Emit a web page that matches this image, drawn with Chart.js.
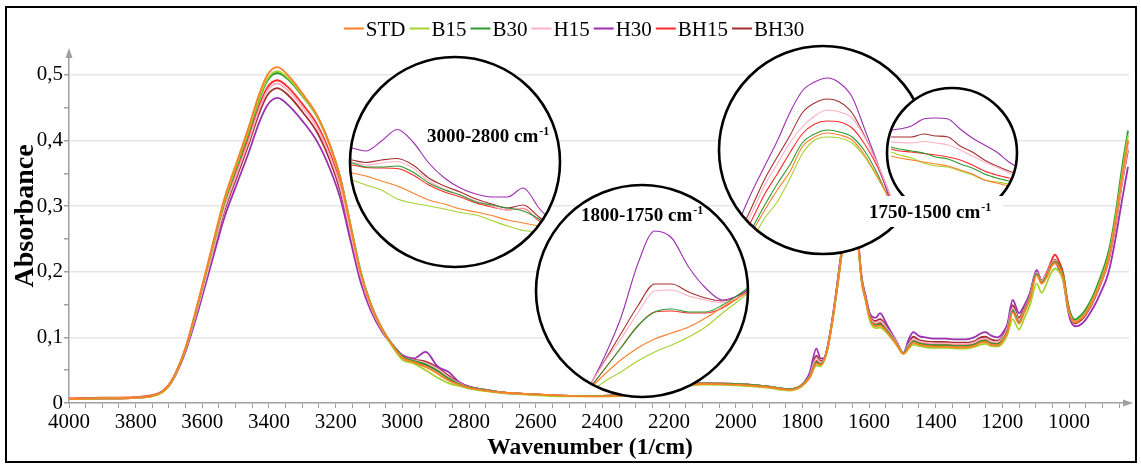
<!DOCTYPE html>
<html lang="en">
<head>
<meta charset="utf-8">
<script src="https://cdn.jsdelivr.net/npm/chart.js@4.4.1/dist/chart.umd.min.js"></script>
<title>FTIR spectra</title>
<style>
  html, body { margin: 0; padding: 0; background: #fff; }
</style>
</head>
<body>
<canvas id="myChart" width="1141" height="467"></canvas>
<script>
// samples and their line colours
const samples = ['STD', 'B15', 'B30', 'H15', 'H30', 'BH15', 'BH30'];
const colours = ['#ff7f2a', '#a5d22e', '#2e9a2e', '#ffb0c4', '#9b2fb0', '#ff2b2b', '#a33030'];

// main spectra (wavenumber in 1/cm, absorbance)
const wavenumber = [4000,3900,3800,3750,3720,3700,3680,3650,3610,3570,
  3535,3495,3460,3430,3405,3375,3340,3300,3255,3215,
  3185,3155,3125,3095,3060,3030,3000,2965,2930,2895,
  2860,2830,2800,2750,2700,2600,2500,2400,2300,2200,
  2100,2000,1900,1840,1805,1778,1758,1745,1735,1725,
  1710,1695,1680,1665,1650,1635,1622,1610,1597,1580,
  1567,1547,1517,1497,1480,1467,1450,1430,1400,1370,
  1340,1310,1285,1265,1250,1235,1215,1200,1185,1169,
  1150,1135,1117,1097,1082,1065,1055,1042,1030,1017,
  1005,997,982,970,955,937,920,900,887,877,
  860,840,823];

const absSTD = [0.006,0.007,0.008,0.011,0.017,0.027,0.045,0.085,0.160,0.240,
  0.310,0.370,0.422,0.470,0.500,0.512,0.498,0.472,0.438,0.390,
  0.340,0.268,0.198,0.150,0.112,0.088,0.069,0.062,0.055,0.045,
  0.034,0.028,0.023,0.019,0.016,0.013,0.011,0.010,0.013,0.022,
  0.029,0.028,0.024,0.020,0.025,0.039,0.060,0.058,0.065,0.081,
  0.124,0.177,0.234,0.282,0.297,0.255,0.186,0.157,0.128,0.117,
  0.118,0.109,0.089,0.075,0.085,0.092,0.089,0.087,0.086,0.086,
  0.085,0.085,0.087,0.092,0.093,0.089,0.088,0.094,0.108,0.138,
  0.121,0.137,0.159,0.195,0.182,0.194,0.206,0.213,0.207,0.190,
  0.152,0.135,0.123,0.126,0.133,0.148,0.166,0.191,0.210,0.230,
  0.278,0.346,0.400];
const absB15 = [0.006,0.007,0.008,0.010,0.016,0.026,0.044,0.084,0.158,0.237,
  0.306,0.366,0.417,0.464,0.494,0.506,0.494,0.469,0.436,0.389,
  0.340,0.269,0.199,0.150,0.111,0.086,0.066,0.060,0.050,0.039,
  0.030,0.026,0.022,0.018,0.015,0.012,0.010,0.010,0.012,0.021,
  0.028,0.027,0.023,0.019,0.024,0.038,0.057,0.056,0.064,0.080,
  0.123,0.176,0.233,0.280,0.295,0.254,0.185,0.155,0.125,0.114,
  0.115,0.107,0.088,0.075,0.083,0.089,0.087,0.085,0.084,0.084,
  0.083,0.083,0.085,0.089,0.090,0.087,0.086,0.091,0.104,0.128,
  0.112,0.128,0.150,0.182,0.168,0.185,0.197,0.205,0.200,0.186,
  0.150,0.134,0.123,0.127,0.134,0.150,0.168,0.194,0.213,0.233,
  0.282,0.352,0.408];
const absB30 = [0.006,0.007,0.008,0.011,0.017,0.027,0.045,0.084,0.157,0.236,
  0.304,0.363,0.414,0.461,0.491,0.503,0.492,0.468,0.436,0.390,
  0.342,0.271,0.201,0.152,0.113,0.089,0.071,0.064,0.059,0.049,
  0.037,0.029,0.024,0.020,0.016,0.013,0.011,0.011,0.014,0.023,
  0.030,0.029,0.025,0.021,0.026,0.040,0.062,0.059,0.066,0.082,
  0.125,0.178,0.235,0.283,0.298,0.256,0.187,0.158,0.129,0.119,
  0.120,0.111,0.090,0.076,0.087,0.094,0.091,0.089,0.088,0.088,
  0.087,0.087,0.089,0.094,0.095,0.091,0.090,0.096,0.110,0.141,
  0.123,0.139,0.161,0.197,0.184,0.196,0.208,0.215,0.210,0.194,
  0.156,0.139,0.127,0.131,0.139,0.154,0.173,0.200,0.220,0.240,
  0.290,0.362,0.415];
const absH15 = [0.006,0.007,0.008,0.011,0.017,0.027,0.045,0.082,0.152,0.228,
  0.295,0.352,0.401,0.447,0.476,0.487,0.475,0.451,0.419,0.373,
  0.327,0.259,0.193,0.147,0.111,0.089,0.071,0.065,0.061,0.052,
  0.039,0.030,0.024,0.020,0.016,0.013,0.011,0.011,0.014,0.023,
  0.030,0.029,0.025,0.021,0.026,0.041,0.068,0.062,0.066,0.082,
  0.126,0.179,0.237,0.290,0.306,0.258,0.188,0.159,0.131,0.122,
  0.125,0.114,0.092,0.076,0.090,0.097,0.094,0.092,0.091,0.091,
  0.090,0.090,0.092,0.097,0.098,0.094,0.093,0.099,0.114,0.145,
  0.126,0.141,0.163,0.199,0.186,0.198,0.210,0.217,0.209,0.192,
  0.154,0.136,0.123,0.126,0.133,0.147,0.165,0.190,0.208,0.228,
  0.275,0.340,0.390];
const absH30 = [0.006,0.007,0.008,0.011,0.017,0.026,0.043,0.079,0.145,0.218,
  0.281,0.336,0.383,0.427,0.454,0.465,0.453,0.430,0.398,0.354,
  0.310,0.246,0.184,0.141,0.108,0.089,0.073,0.068,0.078,0.056,
  0.047,0.032,0.025,0.020,0.016,0.013,0.011,0.011,0.014,0.023,
  0.030,0.029,0.025,0.021,0.026,0.046,0.083,0.068,0.068,0.084,
  0.128,0.183,0.242,0.300,0.318,0.262,0.192,0.163,0.136,0.130,
  0.137,0.120,0.093,0.076,0.098,0.108,0.102,0.100,0.098,0.098,
  0.097,0.097,0.100,0.106,0.108,0.103,0.100,0.106,0.120,0.157,
  0.137,0.148,0.168,0.203,0.186,0.198,0.208,0.214,0.204,0.186,
  0.147,0.128,0.117,0.118,0.124,0.137,0.152,0.174,0.190,0.208,
  0.252,0.312,0.360];
const absBH15 = [0.007,0.008,0.009,0.012,0.018,0.028,0.046,0.083,0.154,0.231,
  0.298,0.356,0.406,0.452,0.481,0.492,0.480,0.456,0.424,0.378,
  0.331,0.262,0.195,0.148,0.111,0.088,0.070,0.064,0.058,0.049,
  0.037,0.029,0.024,0.020,0.016,0.013,0.011,0.011,0.014,0.023,
  0.030,0.029,0.025,0.021,0.026,0.040,0.064,0.060,0.066,0.082,
  0.125,0.178,0.236,0.288,0.303,0.257,0.187,0.158,0.130,0.120,
  0.122,0.112,0.091,0.076,0.089,0.096,0.093,0.091,0.090,0.090,
  0.089,0.089,0.091,0.096,0.097,0.093,0.092,0.098,0.112,0.143,
  0.125,0.141,0.164,0.200,0.187,0.201,0.214,0.226,0.216,0.197,
  0.157,0.138,0.124,0.127,0.134,0.149,0.167,0.193,0.212,0.232,
  0.280,0.348,0.400];
const absBH30 = [0.006,0.007,0.008,0.011,0.017,0.027,0.044,0.081,0.150,0.225,
  0.291,0.347,0.396,0.441,0.469,0.480,0.468,0.444,0.412,0.367,
  0.321,0.255,0.190,0.145,0.110,0.089,0.072,0.066,0.063,0.054,
  0.041,0.031,0.025,0.020,0.016,0.013,0.011,0.011,0.014,0.023,
  0.030,0.029,0.025,0.021,0.026,0.043,0.072,0.064,0.067,0.083,
  0.127,0.181,0.240,0.295,0.310,0.260,0.190,0.161,0.133,0.125,
  0.128,0.116,0.093,0.076,0.092,0.101,0.096,0.094,0.093,0.093,
  0.092,0.092,0.094,0.100,0.101,0.097,0.095,0.101,0.116,0.149,
  0.130,0.144,0.165,0.200,0.186,0.198,0.210,0.218,0.210,0.193,
  0.153,0.135,0.121,0.124,0.131,0.145,0.163,0.188,0.206,0.226,
  0.272,0.338,0.385];

// zoomed insets: 3000-2800 cm-1
const ins1X = [3005,2998,2985,2970,2955,2940,2925,2910,2895,2880,2865,2850,2835,2820,2805];
const i1STD = [0.0612,0.0608,0.0602,0.0592,0.0582,0.0568,0.0554,0.0546,0.0536,0.053,0.0523,0.0514,0.0508,0.0502,0.0494];
const i1B15 = [0.0598,0.0594,0.0584,0.0574,0.0556,0.0548,0.0542,0.0536,0.0529,0.0524,0.0513,0.0502,0.0493,0.049,0.0486];
const i1B30 = [0.063,0.0628,0.062,0.062,0.0622,0.061,0.0588,0.0574,0.0564,0.055,0.0544,0.0538,0.0532,0.0516,0.0496];
const i1H15 = [0.0632,0.063,0.0624,0.0628,0.0631,0.0618,0.0592,0.0576,0.0564,0.0552,0.0542,0.0534,0.0538,0.0514,0.0494];
const i1H30 = [0.0662,0.0658,0.0652,0.0672,0.0695,0.067,0.0628,0.0598,0.0578,0.0566,0.056,0.056,0.0578,0.0538,0.0504];
const i1BH15 = [0.0626,0.0624,0.0619,0.0618,0.0617,0.0604,0.0584,0.057,0.056,0.0548,0.054,0.0534,0.0537,0.0512,0.0492];
const i1BH30 = [0.0636,0.0634,0.0629,0.0634,0.0637,0.0624,0.0598,0.0582,0.057,0.0556,0.0546,0.0538,0.0544,0.052,0.0498];

// 1800-1750 cm-1
const ins2X = [1788,1784,1780,1776,1772,1768,1764,1760,1756,1752,1750];
const i2STD = [0.0386,0.042,0.045,0.0474,0.0492,0.0504,0.0516,0.0534,0.0556,0.0576,0.0586];
const i2B15 = [0.038,0.0406,0.0426,0.0448,0.0466,0.048,0.0496,0.0516,0.0544,0.057,0.0584];
const i2B30 = [0.0386,0.043,0.0474,0.0518,0.0546,0.0552,0.0546,0.0546,0.056,0.0582,0.0594];
const i2H15 = [0.039,0.0444,0.0492,0.0544,0.0588,0.059,0.0578,0.057,0.0564,0.0576,0.0586];
const i2H30 = [0.0386,0.0454,0.0534,0.0642,0.0708,0.0694,0.0636,0.0594,0.057,0.058,0.059];
const i2BH15 = [0.0386,0.043,0.0474,0.0518,0.0546,0.0548,0.0544,0.0544,0.0554,0.0576,0.0586];
const i2BH30 = [0.039,0.0446,0.0502,0.0558,0.0602,0.0602,0.0586,0.0574,0.0568,0.058,0.059];

// 1750-1500 cm-1
const ins3X = [1725,1710,1695,1680,1665,1650,1635,1620,1605,1590,1575,1560,1545,1530];
const i3STD = [0.2155,0.227,0.238,0.248,0.257,0.2695,0.2745,0.2765,0.2755,0.273,0.2655,0.255,0.243,0.227];
const i3B15 = [0.212,0.223,0.234,0.242,0.2535,0.266,0.273,0.2745,0.274,0.2715,0.2645,0.2545,0.243,0.228];
const i3B30 = [0.218,0.229,0.2405,0.251,0.2605,0.2715,0.276,0.278,0.277,0.2745,0.2675,0.2565,0.2425,0.227];
const i3H15 = [0.224,0.237,0.2505,0.261,0.2715,0.2795,0.285,0.288,0.287,0.284,0.2745,0.2615,0.246,0.229];
const i3H30 = [0.2335,0.2475,0.26,0.2725,0.2865,0.2975,0.302,0.304,0.3015,0.2945,0.2785,0.262,0.2435,0.223];
const i3BH15 = [0.221,0.2335,0.246,0.256,0.2665,0.276,0.281,0.2825,0.282,0.279,0.271,0.26,0.245,0.229];
const i3BH30 = [0.2265,0.24,0.2535,0.2645,0.275,0.2865,0.2915,0.2935,0.292,0.2865,0.275,0.2615,0.246,0.228];

// small unlabeled inset, 1480-1320 cm-1
const ins4X = [1475,1465,1450,1435,1420,1405,1390,1375,1360,1345,1330,1318];
const i4STD = [0.0964,0.096,0.0956,0.0952,0.0948,0.0944,0.0936,0.0928,0.0916,0.091,0.0904,0.09];
const i4B15 = [0.0972,0.0966,0.096,0.095,0.0944,0.0942,0.0934,0.0926,0.0916,0.0912,0.0908,0.0904];
const i4B30 = [0.0982,0.0978,0.0974,0.097,0.0962,0.0958,0.0948,0.094,0.0928,0.092,0.0914,0.091];
const i4H15 = [0.0992,0.0991,0.099,0.0993,0.099,0.0986,0.0976,0.0964,0.0952,0.0942,0.093,0.0922];
const i4H30 = [0.1016,0.1018,0.1024,0.1038,0.104,0.1038,0.1018,0.1,0.0986,0.0972,0.0952,0.094];
const i4BH15 = [0.0978,0.0974,0.0972,0.0969,0.0966,0.0962,0.0956,0.0946,0.0934,0.0926,0.092,0.0916];
const i4BH30 = [0.1002,0.1002,0.1002,0.1008,0.1004,0.1002,0.0984,0.0972,0.0956,0.0944,0.0934,0.0928];

const yTicks = [0,0.05,0.1,0.15,0.2,0.25,0.3,0.35,0.4,0.45,0.5];

// layout (pixels)
const area = {left: 69, right: 1129, top: 53, bottom: 403};
const circles = [
  {cx: 455, cy: 162, r: 105, xWin: [3000, 2800], yWin: [0.042, 0.084]},
  {cx: 642, cy: 291, r: 106, xWin: [1800, 1750], yWin: [0.0376, 0.08]},
  {cx: 823, cy: 150, r: 104, xWin: [1750, 1500], yWin: [0.216, 0.32]},
  {cx: 952, cy: 153, r: 65, xWin: [1480, 1320], yWin: [0.084, 0.11]}
];
const insetLabels = [
  {text: '3000-2800 cm', x: 427, y: 142},
  {text: '1800-1750 cm', x: 581, y: 221},
  {text: '1750-1500 cm', x: 869, y: 218, box: [860, 196, 143, 31]}
];
const serif = '"Liberation Serif", "Times New Roman", serif';

const mainSeries = [absSTD, absB15, absB30, absH15, absH30, absBH15, absBH30];
const insetData = [
  [ins1X, [i1STD, i1B15, i1B30, i1H15, i1H30, i1BH15, i1BH30]],
  [ins2X, [i2STD, i2B15, i2B30, i2H15, i2H30, i2BH15, i2BH30]],
  [ins3X, [i3STD, i3B15, i3B30, i3H15, i3H30, i3BH15, i3BH30]],
  [ins4X, [i4STD, i4B15, i4B30, i4H15, i4H30, i4BH15, i4BH30]]
];

const toPoints = (xs, ys) => xs.map((x, i) => ({x: x, y: ys[i]}));

let datasets = samples.map((s, k) => ({
  label: s,
  data: toPoints(wavenumber, mainSeries[k]),
  borderColor: colours[k],
  borderWidth: 1.8,
  pointRadius: 0,
  cubicInterpolationMode: 'monotone',
  order: 10
}));
insetData.forEach((ins, n) => {
  samples.forEach((s, k) => {
    datasets.push({
      label: s,
      inset: n,
      data: toPoints(ins[0], ins[1][k]),
      xAxisID: 'xi' + n,
      yAxisID: 'yi' + n,
      borderColor: colours[k],
      borderWidth: 1.1,
      pointRadius: 0,
      cubicInterpolationMode: 'monotone',
      clip: false,
      order: 4 - n
    });
  });
});

// hidden scales that put each inset window inside its circle
function insetScales(c, n) {
  const W = area.right - area.left, H = area.bottom - area.top;
  const L = c.cx - c.r, R = c.cx + c.r, T = c.cy - c.r, B = c.cy + c.r;
  const kx = (c.xWin[0] - c.xWin[1]) / (R - L);
  const xmax = c.xWin[0] + (L - area.left) * kx;
  const ky = (c.yWin[1] - c.yWin[0]) / (B - T);
  const ymin = c.yWin[0] - (area.bottom - B) * ky;
  let out = {};
  out['xi' + n] = {type: 'linear', display: false, reverse: true, bounds: 'data', min: xmax - W * kx, max: xmax};
  out['yi' + n] = {type: 'linear', display: false, bounds: 'data', min: ymin, max: ymin + H * ky};
  return out;
}

const isMajorY = v => Math.abs(v * 10 - Math.round(v * 10)) < 1e-6;

let scales = {
  x: {
    type: 'linear', reverse: true, min: 820, max: 4000,
    afterBuildTicks: axis => {
      axis.ticks = [];
      for (let v = 4000; v > 820; v -= 50) axis.ticks.push({value: v});
    },
    ticks: {
      autoSkip: false, maxRotation: 0, padding: 2, color: '#000',
      font: {family: serif, size: 21},
      callback: v => (v % 200 === 0 && v >= 1000) ? String(v) : ''
    },
    grid: {drawOnChartArea: false, tickLength: 5, color: '#a0a0a0', lineWidth: 1},
    border: {color: '#a0a0a0', width: 1.5},
    afterFit: s => { s.height = 64; }
  },
  y: {
    type: 'linear', min: 0, max: 0.5335,
    afterBuildTicks: axis => { axis.ticks = yTicks.map(v => ({value: v})); },
    ticks: {
      padding: 1, color: '#000',
      font: {family: serif, size: 21},
      callback: v => isMajorY(v) ? (v === 0 ? '0' : v.toFixed(1).replace('.', ',')) : ''
    },
    grid: {
      tickLength: 5, tickColor: '#a0a0a0', lineWidth: 1.5,
      color: c => (c.tick && c.tick.value > 0 && isMajorY(c.tick.value)) ? '#e6e6e6' : 'rgba(0,0,0,0)'
    },
    border: {color: '#a0a0a0', width: 1.5},
    afterFit: s => { s.width = 69; }
  }
};
circles.forEach((c, n) => Object.assign(scales, insetScales(c, n)));

const insetPlugin = {
  id: 'insets',
  beforeDatasetsDraw(chart) {
    this.started = {};
    this.count = {};
  },
  beforeDatasetDraw(chart, args) {
    const ds = chart.data.datasets[args.index];
    if (ds.inset === undefined) return;
    const c = circles[ds.inset];
    const ctx = chart.ctx;
    if (!this.started[ds.inset]) {
      ctx.save();
      ctx.beginPath();
      ctx.arc(c.cx, c.cy, c.r, 0, Math.PI * 2);
      ctx.fillStyle = '#fff';
      ctx.fill();
      ctx.restore();
      this.started[ds.inset] = true;
    }
    ctx.save();
    ctx.beginPath();
    ctx.arc(c.cx, c.cy, c.r, 0, Math.PI * 2);
    ctx.clip();
  },
  afterDatasetDraw(chart, args) {
    const ds = chart.data.datasets[args.index];
    if (ds.inset === undefined) return;
    const ctx = chart.ctx;
    ctx.restore();
    this.count[ds.inset] = (this.count[ds.inset] || 0) + 1;
    if (this.count[ds.inset] === samples.length) {
      const c = circles[ds.inset];
      ctx.save();
      ctx.beginPath();
      ctx.arc(c.cx, c.cy, c.r, 0, Math.PI * 2);
      ctx.lineWidth = 2.6;
      ctx.strokeStyle = '#000';
      ctx.stroke();
      ctx.restore();
    }
  },
  afterDatasetsDraw(chart) {
    const ctx = chart.ctx;
    ctx.save();
    insetLabels.forEach(l => {
      if (l.box) {
        ctx.fillStyle = '#fff';
        ctx.fillRect(l.box[0], l.box[1], l.box[2], l.box[3]);
      }
      ctx.fillStyle = '#000';
      ctx.textBaseline = 'alphabetic';
      ctx.textAlign = 'left';
      ctx.font = 'bold 19px ' + serif;
      ctx.fillText(l.text, l.x, l.y);
      const w = ctx.measureText(l.text).width;
      ctx.font = 'bold 12px ' + serif;
      ctx.fillText('-1', l.x + w + 1, l.y - 7);
    });
    ctx.restore();
  },
  afterDraw(chart) {
    const ctx = chart.ctx;
    ctx.save();
    // axis arrows
    ctx.fillStyle = '#a0a0a0';
    ctx.beginPath();
    ctx.moveTo(area.left, area.top - 5);
    ctx.lineTo(area.left - 3.5, area.top + 5);
    ctx.lineTo(area.left + 3.5, area.top + 5);
    ctx.closePath();
    ctx.fill();
    ctx.beginPath();
    ctx.moveTo(area.right + 4, area.bottom);
    ctx.lineTo(area.right - 6, area.bottom - 3.5);
    ctx.lineTo(area.right - 6, area.bottom + 3.5);
    ctx.closePath();
    ctx.fill();
    // axis titles
    ctx.fillStyle = '#000';
    ctx.textAlign = 'center';
    ctx.textBaseline = 'alphabetic';
    ctx.font = 'bold 23.5px ' + serif;
    ctx.fillText('Wavenumber (1/cm)', 590, 454);
    ctx.save();
    ctx.translate(33, 216);
    ctx.rotate(-Math.PI / 2);
    ctx.font = 'bold 28px ' + serif;
    ctx.fillText('Absorbance', 0, 0);
    ctx.restore();
    // legend
    ctx.font = '21px ' + serif;
    ctx.textAlign = 'left';
    const main = chart.data.datasets.filter(d => d.inset === undefined);
    const widths = main.map(d => 22 + ctx.measureText(d.label).width);
    const total = widths.reduce((a, b) => a + b, 0) + 4 * (main.length - 1);
    let x = 574 - total / 2;
    main.forEach((d, i) => {
      ctx.strokeStyle = d.borderColor;
      ctx.lineWidth = 2;
      ctx.beginPath();
      ctx.moveTo(x, 28.5);
      ctx.lineTo(x + 20, 28.5);
      ctx.stroke();
      ctx.fillStyle = '#000';
      ctx.fillText(d.label, x + 22, 36);
      x += widths[i] + 4;
    });
    // frame
    ctx.strokeStyle = '#000';
    ctx.lineWidth = 2;
    ctx.strokeRect(6, 7, 1130, 455);
    ctx.restore();
  }
};

const ctx = document.getElementById('myChart').getContext('2d');
const myChart = new Chart(ctx, {
  type: 'line',
  data: {datasets: datasets},
  options: {
    responsive: false,
    animation: false,
    events: [],
    layout: {padding: {left: 0, right: 1141 - area.right, top: area.top, bottom: 0}},
    plugins: {legend: {display: false}, tooltip: {enabled: false}},
    scales: scales
  },
  plugins: [insetPlugin]
});
</script>
</body>
</html>
